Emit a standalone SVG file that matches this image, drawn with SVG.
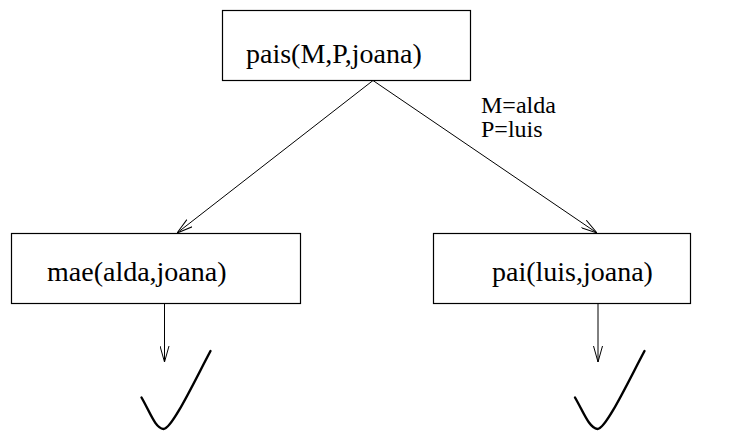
<svg xmlns="http://www.w3.org/2000/svg" width="751" height="432" viewBox="0 0 751 432">
  <style>
    .box { fill: #ffffff; stroke: #000000; stroke-width: 1.2; }
    .lbl { font-family: "Liberation Serif", "Times New Roman", serif; font-size: 28px; fill: #000000; }
    .sub { font-family: "Liberation Serif", "Times New Roman", serif; font-size: 24px; fill: #000000; }
    .edge { fill: none; stroke: #000000; stroke-width: 1; }
    .tick { fill: none; stroke: #000000; stroke-width: 2.4; stroke-linecap: round; }
  </style>
  <defs>
    <marker id="open" viewBox="0 0 16 10" refX="16" refY="5" markerWidth="16" markerHeight="10" markerUnits="userSpaceOnUse" orient="auto">
      <path d="M0,0.5 L16,5 L0,9.5" fill="none" stroke="#000000" stroke-width="1"/>
    </marker>
  </defs>

  <rect width="751" height="432" fill="#ffffff"/>

  <g id="connectors">
    <line class="edge" x1="373" y1="80.5" x2="177" y2="233" marker-end="url(#open)"/>
    <line class="edge" x1="373" y1="80.5" x2="597" y2="233" marker-end="url(#open)"/>
    <line class="edge" x1="164.5" y1="303.5" x2="164.5" y2="362" marker-end="url(#open)"/>
    <line class="edge" x1="598" y1="303.5" x2="598" y2="362" marker-end="url(#open)"/>
    <text class="sub" x="481" y="113">M=alda</text>
    <text class="sub" x="481" y="137">P=luis</text>
  </g>

  <g id="goal">
    <rect class="box" x="222.5" y="10.5" width="248" height="70"/>
    <text class="lbl" x="246" y="63">pais(M,P,joana)</text>
  </g>

  <g id="mae">
    <rect class="box" x="11.5" y="233.5" width="289" height="70"/>
    <text class="lbl" x="47" y="281">mae(alda,joana)</text>
  </g>

  <g id="pai">
    <rect class="box" x="433.5" y="233.5" width="257" height="70"/>
    <text class="lbl" x="492" y="281">pai(luis,joana)</text>
  </g>

  <g id="success-mae">
    <path class="tick" d="M141.5,397.5 C150,412 155,428 163.5,429 C172,429 195,380 210.5,351"/>
  </g>

  <g id="success-pai">
    <path class="tick" d="M575,397.5 C583.5,412 589,428 597.5,429 C606,429 629,380 644.5,351"/>
  </g>
</svg>
